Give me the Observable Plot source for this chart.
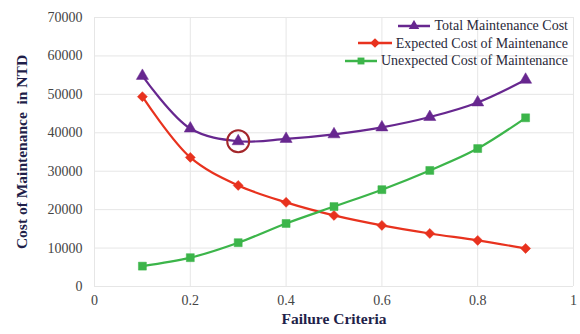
<!DOCTYPE html>
<html><head><meta charset="utf-8">
<script src="https://cdn.jsdelivr.net/npm/d3@7"></script>
<script src="https://cdn.jsdelivr.net/npm/@observablehq/plot@0.6"></script>
<style>
body{margin:0;background:#fff;font-family:"Liberation Serif",serif;}
#wrap{position:relative;width:580px;height:334px;}
#wrap svg text{font-family:"Liberation Serif",serif;}
#legend{position:absolute;top:17px;right:12px;display:flex;flex-direction:column;align-items:flex-end;font-family:"Liberation Serif",serif;font-size:14px;color:#2a2a3a;line-height:17.5px;}
#legend div{display:flex;align-items:center;}
#legend svg{margin-right:4px;}
</style></head><body>
<div id="wrap"></div>
<script>
const criteria = [0.1,0.2,0.3,0.4,0.5,0.6,0.7,0.8,0.9];
const totalCost = [54800,41100,37800,38400,39600,41400,44100,47900,53800];
const expectedCost = [49400,33600,26300,21900,18500,15900,13800,12000,9900];
const unexpectedCost = [5300,7500,11400,16400,20800,25200,30200,35900,43900];
const seriesNames = ["Total Maintenance Cost","Expected Cost of Maintenance","Unexpected Cost of Maintenance"];
const seriesColors = ["#67278f","#e8321e","#3cb54a"];
const seriesSymbols = ["triangle","diamond2","square"];
const yTicks = [0,10000,20000,30000,40000,50000,60000,70000];
const xTicks = [0,0.2,0.4,0.6,0.8,1];
const optimum = {x:0.3, y:37800};

const rows = [];
[totalCost,expectedCost,unexpectedCost].forEach((arr,i)=>arr.forEach((v,j)=>rows.push({x:criteria[j],y:v,s:seriesNames[i]})));

const serif = "Liberation Serif, serif";
const plot = Plot.plot({
  width:580, height:334,
  marginLeft:94, marginRight:7, marginTop:17, marginBottom:48,
  style:{fontFamily:serif, fontSize:"14px", color:"#333", background:"#fff"},
  x:{domain:[0,1], ticks:xTicks, tickFormat:d=>String(d), label:null},
  y:{domain:[0,70000], ticks:yTicks, tickFormat:d=>String(d), label:null},
  color:{domain:seriesNames, range:seriesColors},
  symbol:{domain:seriesNames, range:seriesSymbols},
  marks:[
    Plot.gridY(yTicks,{stroke:"#e6e6e6", strokeOpacity:1}),
    Plot.gridX(xTicks,{stroke:"#e6e6e6", strokeOpacity:1}),
    Plot.axisY({ticks:yTicks, tickSize:0, tickPadding:12, tickFormat:d=>String(d), fill:"#444", fontSize:14, fontFamily:serif}),
    Plot.axisX({ticks:xTicks, tickSize:0, tickPadding:9, tickFormat:d=>String(d), fill:"#444", fontSize:14, fontFamily:serif}),
    Plot.line(rows,{x:"x",y:"y",z:"s",stroke:"s",strokeWidth:2.2,curve:"catmull-rom"}),
    Plot.dot(rows,{x:"x",y:"y",fill:"s",symbol:"s",r:4.5,stroke:"s",strokeWidth:0.5}),
    Plot.dot([optimum],{x:"x",y:"y",r:11,stroke:"#a3262a",strokeWidth:2,fill:"none"}),
    Plot.text(["Cost of Maintenance  in NTD"],{frameAnchor:"left",dx:-72,rotate:-90,textAnchor:"middle",fontWeight:"bold",fontSize:15.5,fill:"#1f1f4a",fontFamily:serif}),
    Plot.text(["Failure Criteria"],{frameAnchor:"bottom",dy:37,textAnchor:"middle",fontWeight:"bold",fontSize:15.5,fill:"#1f1f4a",fontFamily:serif})
  ]
});
document.getElementById("wrap").appendChild(plot);

const legend = document.createElement("div");
legend.id="legend";
const swW=[32,34,32];
seriesNames.forEach((n,i)=>{
  const d=document.createElement("div");
  const w=swW[i];
  const sym = d3.symbol().type(i===0?d3.symbolTriangle2:(i===1?d3.symbolDiamond2:d3.symbolSquare2)).size(i===0?80:60)();
  d.innerHTML=`<svg width="${w}" height="12"><line x1="0" x2="${w}" y1="6" y2="6" stroke="${seriesColors[i]}" stroke-width="2.5"/><path d="${sym}" transform="translate(${w/2},6)" fill="${seriesColors[i]}"/></svg><span>${n}</span>`;
  legend.appendChild(d);
});
document.getElementById("wrap").appendChild(legend);
</script>
</body></html>
